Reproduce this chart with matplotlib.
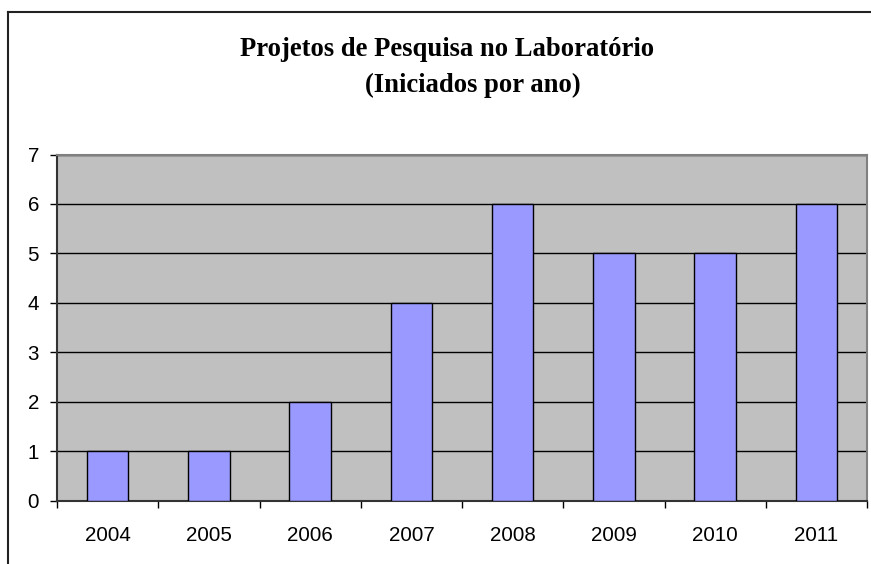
import matplotlib
matplotlib.use("Agg")
import matplotlib.pyplot as plt
from matplotlib.lines import Line2D

years = ["2004", "2005", "2006", "2007", "2008", "2009", "2010", "2011"]
projects = [1, 1, 2, 4, 6, 5, 5, 6]
y_ticks = [0, 1, 2, 3, 4, 5, 6, 7]

W, H = 871, 564
fig = plt.figure(figsize=(W / 100, H / 100), dpi=100)
fig.patch.set_facecolor("white")

# plot area in pixels: x 57..867, y 154.5..500.7
left, right, top, bottom = 57, 867, 154.5, 500.7
ax = fig.add_axes([left / W, 1 - bottom / H, (right - left) / W, (bottom - top) / H])
ax.set_facecolor("#C0C0C0")

x = list(range(len(years)))
ax.bar(x, projects, width=0.41, color="#9999FF", edgecolor="black", linewidth=1.0, zorder=3)

ax.set_xlim(-0.5, len(years) - 0.5)
ax.set_ylim(0, 7)
ax.set_yticks(y_ticks)
ax.set_yticklabels([str(v) for v in y_ticks], fontsize=14.8, family="Liberation Sans")
ax.yaxis.grid(True, color="black", linewidth=1.0, zorder=1)
ax.set_axisbelow(True)

# major ticks at boundaries, labels at centers
ax.set_xticks([i - 0.5 for i in range(len(years) + 1)])
ax.set_xticklabels([])
ax.set_xticks(x, minor=True)
ax.set_xticklabels(years, minor=True, fontsize=14.8, family="Liberation Sans")
ax.tick_params(axis="x", which="minor", length=0, pad=18)
ax.tick_params(axis="x", which="major", length=5, width=1, direction="out", color="black")
ax.tick_params(axis="y", length=5, width=1, direction="out", pad=8, color="black")

for s in ["top", "right"]:
    ax.spines[s].set_color("#808080")
    ax.spines[s].set_linewidth(1.5)
for s in ["left", "bottom"]:
    ax.spines[s].set_color("#333333")
    ax.spines[s].set_linewidth(1.5)

# titles
fig.text(240 / W, 1 - 56 / H, "Projetos de Pesquisa no Laboratório", ha="left", va="baseline",
         fontsize=19.2, fontweight="bold", family="Liberation Serif")
fig.text(365 / W, 1 - 92 / H, "(Iniciados por ano)", ha="left", va="baseline",
         fontsize=19.2, fontweight="bold", family="Liberation Serif")

# figure border (top and left visible)
fig.add_artist(Line2D([8 / W, 1], [1 - 12 / H, 1 - 12 / H], transform=fig.transFigure, color="#222222", lw=1.5))
fig.add_artist(Line2D([8 / W, 8 / W], [0, 1 - 12 / H], transform=fig.transFigure, color="#222222", lw=1.5))

fig.savefig("out.png", dpi=100)
